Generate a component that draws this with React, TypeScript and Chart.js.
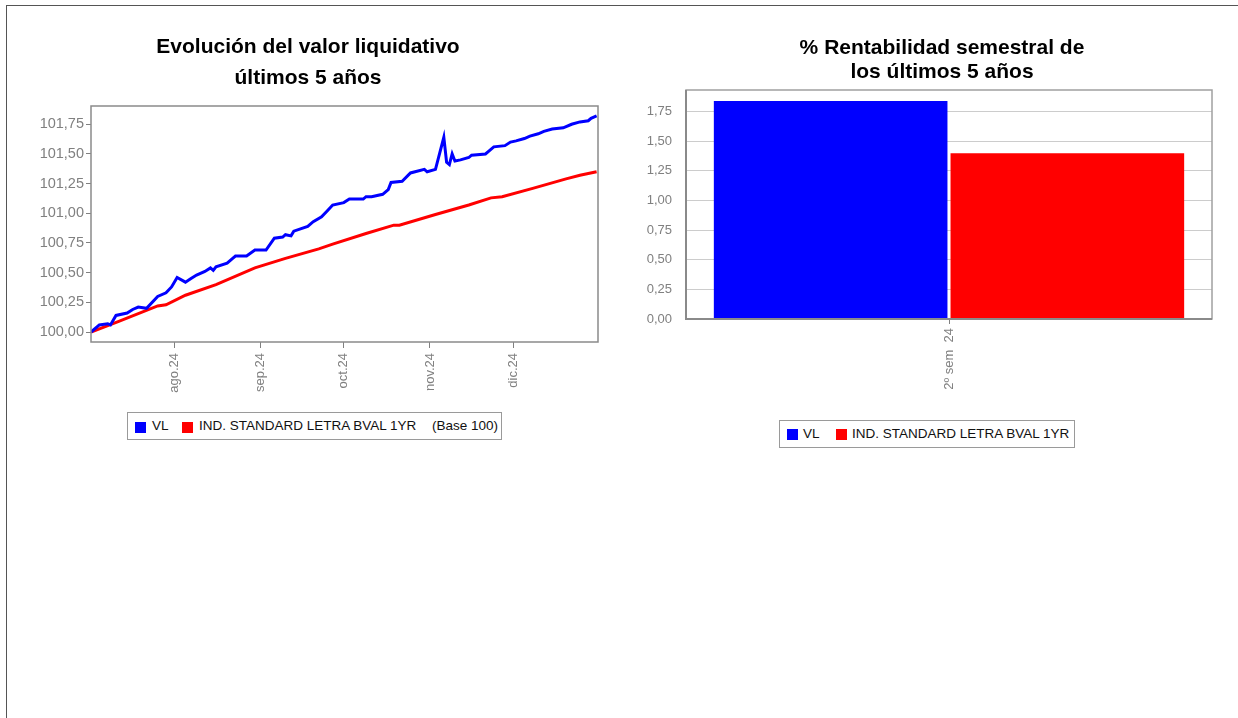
import React, { useEffect, useRef } from "react";
import { Chart, registerables } from "chart.js";

Chart.register(...registerables);

const FONT = "'Liberation Sans', Arial, Helvetica, sans-serif";

// ---------- texts ----------
const lineTitle = ["Evolución del valor liquidativo", "últimos 5 años"];
const barTitle = ["% Rentabilidad semestral de", "los últimos 5 años"];
const seriesNames = ["VL", "IND. STANDARD LETRA BVAL 1YR"];
const baseNote = "(Base 100)";
const seriesColors = ["#0000FF", "#FF0000"];

// ---------- line chart data (base 100) ----------
const vlDates = [
  "2024-07-02", "2024-07-05", "2024-07-08", "2024-07-09", "2024-07-11", "2024-07-15",
  "2024-07-17", "2024-07-19", "2024-07-22", "2024-07-26", "2024-07-29", "2024-07-31",
  "2024-08-02", "2024-08-05", "2024-08-07", "2024-08-09", "2024-08-12", "2024-08-14",
  "2024-08-15", "2024-08-16", "2024-08-20", "2024-08-22", "2024-08-23", "2024-08-27",
  "2024-08-30", "2024-09-03", "2024-09-06", "2024-09-09", "2024-09-10", "2024-09-12",
  "2024-09-13", "2024-09-18", "2024-09-20", "2024-09-23", "2024-09-25", "2024-09-27",
  "2024-10-01", "2024-10-03", "2024-10-08", "2024-10-09", "2024-10-11", "2024-10-15",
  "2024-10-17", "2024-10-18", "2024-10-22", "2024-10-25", "2024-10-30", "2024-10-31",
  "2024-11-03", "2024-11-06", "2024-11-07", "2024-11-08", "2024-11-09", "2024-11-10",
  "2024-11-12", "2024-11-15", "2024-11-16", "2024-11-21", "2024-11-22", "2024-11-24",
  "2024-11-28", "2024-11-30", "2024-12-02", "2024-12-05", "2024-12-07", "2024-12-10",
  "2024-12-12", "2024-12-15", "2024-12-19", "2024-12-22", "2024-12-25", "2024-12-28",
  "2024-12-29", "2024-12-31",
];
const vlValues = [
  100.0, 100.06, 100.07, 100.06, 100.14, 100.16,
  100.19, 100.21, 100.2, 100.3, 100.33, 100.38,
  100.46, 100.42, 100.45, 100.48, 100.51, 100.54,
  100.52, 100.55, 100.58, 100.62, 100.64, 100.64,
  100.69, 100.69, 100.79, 100.8, 100.82, 100.81,
  100.85, 100.89, 100.93, 100.97, 101.02, 101.07,
  101.09, 101.12, 101.12, 101.14, 101.14, 101.16,
  101.2, 101.26, 101.27, 101.34, 101.37, 101.35,
  101.37, 101.64, 101.43, 101.41, 101.5, 101.44,
  101.45, 101.47, 101.49, 101.5, 101.52, 101.56,
  101.57, 101.6, 101.61, 101.63, 101.65, 101.67,
  101.69, 101.71, 101.72, 101.75, 101.77, 101.78,
  101.8, 101.82,
];
const indexDates = [
  "2024-07-02", "2024-07-12", "2024-07-26", "2024-07-29", "2024-08-05", "2024-08-16",
  "2024-08-30", "2024-09-10", "2024-09-22", "2024-09-27", "2024-10-09", "2024-10-19",
  "2024-10-21", "2024-11-03", "2024-11-15", "2024-11-23", "2024-11-27", "2024-12-08",
  "2024-12-20", "2024-12-25", "2024-12-31",
];
const indexValues = [
  100.0, 100.09, 100.22, 100.23, 100.31, 100.4,
  100.54, 100.62, 100.7, 100.74, 100.83, 100.9,
  100.9, 100.99, 101.07, 101.13, 101.14, 101.21,
  101.29, 101.32, 101.35,
];
const monthTickDates = ["2024-08-01", "2024-09-01", "2024-10-01", "2024-11-01", "2024-12-01"];
const monthTickLabels = ["ago.24", "sep.24", "oct.24", "nov.24", "dic.24"];
const lineAxisStart = "2024-07-02";
const lineAxisEnd = "2024-12-31";
const lineYMin = 99.916;
const lineYMax = 101.904;
const lineYTicks = [100.0, 100.25, 100.5, 100.75, 101.0, 101.25, 101.5, 101.75];

// ---------- bar chart data (%) ----------
const semesterLabels = ["2º sem  24"];
const vlReturns = [1.84];
const indexReturns = [1.4];
const barYMax = 1.933;
const barYTicks = [0, 0.25, 0.5, 0.75, 1.0, 1.25, 1.5, 1.75];

const EPOCH = Date.parse("2024-07-01T00:00:00Z");
const dayOf = (d: string) => (Date.parse(d + "T00:00:00Z") - EPOCH) / 86400000;
const fmt = (v: number) => Number(v).toFixed(2).replace(".", ",");

const plotFrame = {
  id: "plotFrame",
  afterDraw(chart: any, _args: any, opts: any) {
    const { ctx, chartArea: a } = chart;
    ctx.save();
    ctx.strokeStyle = opts.color || "#888";
    ctx.lineWidth = opts.width || 1;
    ctx.strokeRect(a.left, a.top, a.right - a.left, a.bottom - a.top);
    if (opts.heavy) {
      ctx.strokeStyle = opts.heavy;
      ctx.lineWidth = 2;
      ctx.beginPath();
      ctx.moveTo(a.left, a.top);
      ctx.lineTo(a.left, a.bottom);
      ctx.lineTo(a.right, a.bottom);
      ctx.stroke();
    }
    ctx.restore();
  },
};

// shifts the title block so its centre sits a little left of the plot centre
const titleShift = {
  id: "titleShift",
  afterLayout(chart: any, _args: any, opts: any) {
    const t = chart.titleBlock;
    if (t && typeof opts.inset === "number") {
      t.left = chart.chartArea.left - opts.inset;
      t.right = chart.chartArea.right;
    }
  },
};

function LineChart() {
  const ref = useRef<HTMLCanvasElement | null>(null);
  useEffect(() => {
    if (!ref.current) return;
    const chart = new Chart(ref.current, {
      type: "line",
      data: {
        datasets: [
          {
            label: seriesNames[0],
            data: vlDates.map((d, i) => ({ x: dayOf(d), y: vlValues[i] })),
            borderColor: seriesColors[0],
            backgroundColor: seriesColors[0],
            borderWidth: 3,
            pointRadius: 0,
            tension: 0,
            fill: false,
          },
          {
            label: seriesNames[1],
            data: indexDates.map((d, i) => ({ x: dayOf(d), y: indexValues[i] })),
            borderColor: seriesColors[1],
            backgroundColor: seriesColors[1],
            borderWidth: 3,
            pointRadius: 0,
            tension: 0,
            fill: false,
          },
        ],
      },
      options: {
        animation: false,
        responsive: false,
        events: [],
        layout: { padding: { left: 0, right: 7, top: 0, bottom: 0 } },
        scales: {
          x: {
            type: "linear",
            bounds: "data",
            min: dayOf(lineAxisStart),
            max: dayOf(lineAxisEnd) + 0.5,
            afterBuildTicks: (s: any) => {
              s.ticks = monthTickDates.map((d) => ({ value: dayOf(d) }));
            },
            afterFit: (s: any) => {
              s.height = 58;
            },
            ticks: {
              autoSkip: false,
              minRotation: 90,
              maxRotation: 90,
              padding: 5,
              color: "#808080",
              font: { family: FONT, size: 13 },
              callback: (v: any) => {
                const i = monthTickDates.findIndex((d) => dayOf(d) === v);
                return i >= 0 ? monthTickLabels[i] : "";
              },
            },
            grid: { display: true, drawOnChartArea: false, tickLength: 6, color: "#808080", offset: false },
            border: { display: false },
          },
          y: {
            type: "linear",
            bounds: "data",
            min: lineYMin,
            max: lineYMax,
            afterBuildTicks: (s: any) => {
              s.ticks = lineYTicks.map((v) => ({ value: v }));
            },
            afterFit: (s: any) => {
              s.width = 73;
            },
            ticks: {
              padding: 2,
              color: "#808080",
              font: { family: FONT, size: 14.5 },
              callback: (v: any) => fmt(v),
            },
            grid: { display: true, drawOnChartArea: false, tickLength: 5, color: "#808080" },
            border: { display: false },
          },
        },
        plugins: {
          legend: { display: false },
          tooltip: { enabled: false },
          title: {
            display: true,
            text: lineTitle,
            fullSize: true,
            color: "#000",
            font: { family: FONT, size: 21, weight: "bold", lineHeight: 31 / 21 },
            padding: { top: 16.5, bottom: 12.5 },
          },
          plotFrame: { color: "#8a8a8a", width: 1.5 },
        } as any,
      },
      plugins: [plotFrame],
    } as any);
    return () => chart.destroy();
  }, []);
  return (
    <canvas
      ref={ref}
      width={587}
      height={385}
      style={{ position: "absolute", left: 18, top: 15, width: 587, height: 385 }}
    />
  );
}

function BarChart() {
  const ref = useRef<HTMLCanvasElement | null>(null);
  useEffect(() => {
    if (!ref.current) return;
    const chart = new Chart(ref.current, {
      type: "bar",
      data: {
        labels: semesterLabels,
        datasets: [
          {
            label: seriesNames[0],
            data: vlReturns,
            backgroundColor: seriesColors[0],
            categoryPercentage: 0.9,
            barPercentage: 0.987,
          },
          {
            label: seriesNames[1],
            data: indexReturns,
            backgroundColor: seriesColors[1],
            categoryPercentage: 0.9,
            barPercentage: 0.987,
          },
        ],
      },
      options: {
        animation: false,
        responsive: false,
        events: [],
        layout: { padding: { left: 0, right: 26, top: 0, bottom: 0 } },
        scales: {
          x: {
            afterFit: (s: any) => {
              s.height = 91;
            },
            ticks: {
              autoSkip: false,
              minRotation: 90,
              maxRotation: 90,
              padding: 4,
              color: "#808080",
              font: { family: FONT, size: 13 },
            },
            grid: { display: true, drawOnChartArea: false, offset: false, tickLength: 5, color: "#808080" },
            border: { display: false },
          },
          y: {
            bounds: "data",
            min: 0,
            max: barYMax,
            afterBuildTicks: (s: any) => {
              s.ticks = barYTicks.map((v) => ({ value: v }));
            },
            afterFit: (s: any) => {
              s.width = 41;
            },
            ticks: {
              padding: 14,
              color: "#808080",
              font: { family: FONT, size: 13 },
              callback: (v: any) => fmt(v),
            },
            grid: { display: true, drawTicks: false, color: "#cccccc", lineWidth: 1 },
            border: { display: false },
          },
        },
        plugins: {
          legend: { display: false },
          tooltip: { enabled: false },
          title: {
            display: true,
            text: barTitle,
            fullSize: true,
            color: "#000",
            font: { family: FONT, size: 21, weight: "bold", lineHeight: 24 / 21 },
            padding: { top: 21, bottom: 6 },
          },
          titleShift: { inset: 14 },
          plotFrame: { color: "#a0a0a0", width: 1.5, heavy: "#8a8a8a" },
        } as any,
      },
      plugins: [plotFrame, titleShift],
    } as any);
    return () => chart.destroy();
  }, []);
  return (
    <canvas
      ref={ref}
      width={593}
      height={395}
      style={{ position: "absolute", left: 645, top: 15, width: 593, height: 395 }}
    />
  );
}

const legendText: React.CSSProperties = {
  position: "absolute",
  top: 0,
  height: 26,
  lineHeight: "26px",
  fontSize: 13.5,
  fontFamily: FONT,
  color: "#111",
  whiteSpace: "pre",
};
const sq = (left: number, top: number, color: string): React.CSSProperties => ({
  position: "absolute",
  left,
  top,
  width: 11,
  height: 11,
  background: color,
});

export default function App() {
  return (
    <div
      style={{
        position: "absolute",
        left: 0,
        top: 0,
        width: 1238,
        height: 718,
        overflow: "hidden",
        background: "#fff",
      }}
    >
      <div
        style={{
          position: "absolute",
          left: 6,
          top: 5,
          width: 1300,
          height: 800,
          borderTop: "1px solid #555",
          borderLeft: "1px solid #555",
        }}
      />
      <LineChart />
      <BarChart />
      <div
        style={{
          position: "absolute",
          left: 127,
          top: 412,
          width: 375,
          height: 28,
          border: "1px solid #9a9a9a",
          boxSizing: "border-box",
        }}
      >
        <div style={sq(7, 9, seriesColors[0])} />
        <span style={{ ...legendText, left: 24 }}>{seriesNames[0]}</span>
        <div style={sq(54, 9, seriesColors[1])} />
        <span style={{ ...legendText, left: 71 }}>{seriesNames[1]}</span>
        <span style={{ ...legendText, left: 304 }}>{baseNote}</span>
      </div>
      <div
        style={{
          position: "absolute",
          left: 779,
          top: 420,
          width: 296,
          height: 28,
          border: "1px solid #9a9a9a",
          boxSizing: "border-box",
        }}
      >
        <div style={sq(7, 8, seriesColors[0])} />
        <span style={{ ...legendText, left: 23 }}>{seriesNames[0]}</span>
        <div style={sq(56, 8, seriesColors[1])} />
        <span style={{ ...legendText, left: 72 }}>{seriesNames[1]}</span>
      </div>
    </div>
  );
}
